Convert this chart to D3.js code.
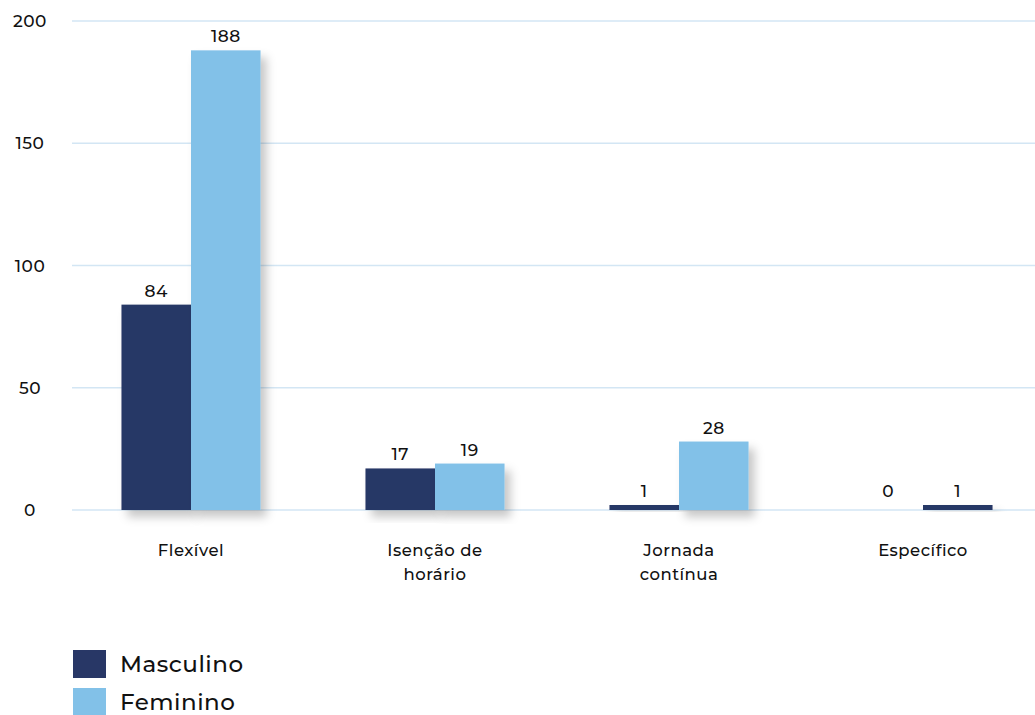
<!DOCTYPE html>
<html>
<head>
<meta charset="utf-8">
<script src="https://cdn.jsdelivr.net/npm/d3@7"></script>
<style>
  html, body { margin: 0; padding: 0; background: #fff; }
  svg { display: block; font-family: "Montserrat", "Noto Sans", "Open Sans", sans-serif; font-weight: 500; letter-spacing: 0.5px; }
</style>
</head>
<body>
<svg id="chart" width="1035" height="715"></svg>
<script>
// Tipos de horário por sexo
const categories = ["Flexível", "Isenção de horário", "Jornada contínua", "Específico"];
const categoryLines = [["Flexível"], ["Isenção de", "horário"], ["Jornada", "contínua"], ["Específico"]];
const series = ["Masculino", "Feminino"];
const masculino = [84, 17, 1, 0];
const feminino = [188, 19, 28, 1];
const yTicks = [0, 50, 100, 150, 200];

const dark = "#283766";
const light = "#82c1e8";

const svg = d3.select("#chart");
const width = 1035;
const y0 = 510, y1 = 21;

const defs = svg.append("defs");
const f = defs.append("filter").attr("id", "shadow")
  .attr("x", "-20%").attr("y", "-20%").attr("width", "150%").attr("height", "150%");
f.append("feDropShadow").attr("dx", 6).attr("dy", 7).attr("stdDeviation", 5)
  .attr("flood-color", "#000").attr("flood-opacity", 0.22);

const y = d3.scaleLinear().domain([0, 200]).range([y0, y1]);
const x0 = d3.scaleBand().domain(categories).range([69, 1045])
  .paddingInner(0.43).paddingOuter(0.215);
const x1 = d3.scaleBand().domain(series).range([0, x0.bandwidth()]);
const color = d3.scaleOrdinal().domain(series).range([dark, light]);

// grid lines
svg.append("g").selectAll("line").data(yTicks).join("line")
  .attr("x1", 72).attr("x2", width)
  .attr("y1", d => y(d)).attr("y2", d => y(d))
  .attr("stroke", "#d3e6f4").attr("stroke-width", 1.5);

// y tick labels
svg.append("g").selectAll("text").data(yTicks).join("text")
  .attr("x", 30).attr("y", d => y(d) + 6)
  .attr("text-anchor", "middle")
  .attr("font-size", 17).attr("fill", "#111")
  .text(d => d);

const rows = categories.map((c, i) => ({
  cat: c,
  values: [{ key: "Masculino", v: masculino[i] }, { key: "Feminino", v: feminino[i] }]
}));

const groups = svg.append("g").selectAll("g").data(rows).join("g")
  .attr("transform", d => `translate(${x0(d.cat)},0)`);

groups.selectAll("rect").data(d => d.values.filter(e => e.v > 0).map(e => ({ ...e, cat: d.cat }))).join("rect")
  .attr("x", d => x1(d.key))
  .attr("width", x1.bandwidth())
  .attr("y", d => Math.min(y(d.v), y0 - 5))
  .attr("height", d => Math.max(y0 - y(d.v), 5))
  .attr("fill", d => d.cat === "Específico" ? dark : color(d.key))
  .attr("filter", "url(#shadow)");

groups.selectAll("text.val").data(d => d.values).join("text")
  .attr("class", "val")
  .attr("x", d => x1(d.key) + x1.bandwidth() / 2)
  .attr("y", d => Math.min(y(d.v), y0 - 5) - 8)
  .attr("text-anchor", "middle")
  .attr("font-size", 17).attr("fill", "#111")
  .text(d => d.v);

// category labels
categories.forEach((c, i) => {
  const t = svg.append("text")
    .attr("x", x0(c) + x0.bandwidth() / 2)
    .attr("y", 556)
    .attr("text-anchor", "middle")
    .attr("font-size", 16.5).attr("fill", "#111");
  categoryLines[i].forEach((line, j) => {
    t.append("tspan").attr("x", x0(c) + x0.bandwidth() / 2).attr("dy", j === 0 ? 0 : 24).text(line);
  });
});

// legend
const legend = svg.append("g").selectAll("g").data(series).join("g")
  .attr("transform", (d, i) => `translate(73,${650 + i * 38})`);
legend.append("rect").attr("width", 33).attr("height", 28).attr("fill", d => color(d));
legend.append("text").attr("x", 47).attr("y", 22)
  .attr("font-size", 23).attr("fill", "#111").text(d => d);
</script>
</body>
</html>
